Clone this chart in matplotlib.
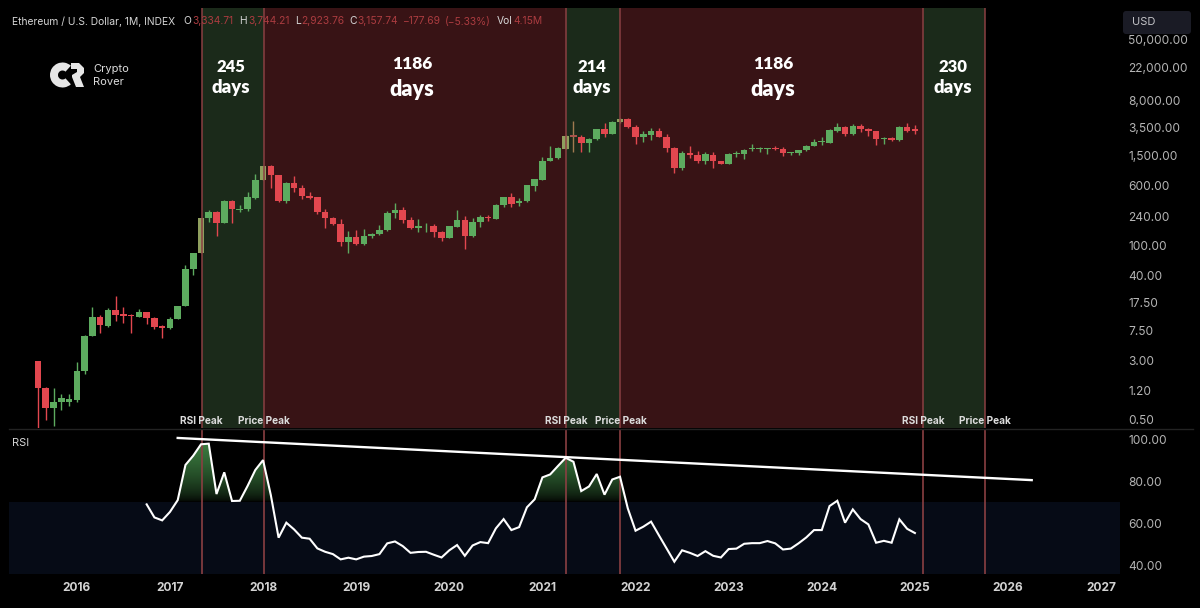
import numpy as np
import matplotlib
matplotlib.use("Agg")
import matplotlib.pyplot as plt
from matplotlib.patches import Wedge, Polygon, FancyBboxPatch
from matplotlib.path import Path

plt.rcParams['font.family'] = ['Inter', 'DejaVu Sans']

# monthly candles, Aug 2015 -> Jan 2025
opens = [3.0, 1.33, 0.71, 0.87, 0.86, 0.92, 2.17, 6.3, 11.3, 8.7, 14, 12.3, 12.1, 11.4, 13, 11.1, 8.5, 8.1, 10.7, 15.6,
         49, 77.5, 225, 275, 197, 384, 290, 295, 420, 719, 1097, 835, 384, 661, 569, 446, 425, 275, 227, 191,
         110, 129, 103, 132, 139, 158, 262, 287, 214, 166, 182, 180, 150, 125, 175, 214, 131, 203, 232, 220,
         337, 425, 354, 375, 599, 719, 1277, 1386, 1843, 2766, 2668, 2183, 2462, 3334, 2898, 4127, 4530, 3613, 2616, 2820,
         3205, 2668, 1893, 1023, 1641, 1532, 1289, 1532, 1277, 1167, 1580, 1565, 1830, 1820, 1840, 1910, 1830, 1641, 1629, 1767,
         2030, 2250, 2215, 3205, 3578, 2898, 3680, 3370, 3170, 2462, 2564, 2415, 3578, 3334.71]
highs = [3.0, 1.36, 1.33, 1.10, 1.10, 2.84, 6.58, 15.2, 11.9, 14.6, 21.4, 15.2, 12.4, 14.4, 13.3, 11.3, 8.9, 11.4, 15.8, 54,
         78, 228, 290, 281, 392, 392, 337, 504, 862, 1097, 1130, 835, 683, 798, 618, 504, 429, 295, 232, 218,
         155, 158, 164, 145, 184, 281, 361, 314, 232, 220, 197, 190, 153, 178, 290, 242, 225, 247, 249, 349,
         433, 480, 413, 618, 735, 1427, 2012, 1940, 2790, 4295, 2815, 2530, 3400, 4003, 4330, 4670, 4670, 3800, 3205, 3440,
         3440, 2898, 1940, 1745, 2012, 1745, 1695, 1663, 1289, 1641, 1730, 1830, 2118, 1970, 1893, 2000, 1950, 1695, 1800, 2100,
         2460, 2668, 3370, 4003, 3680, 3923, 3870, 3470, 3205, 2640, 2668, 3680, 4003, 3744.21]
lows = [0.39, 0.50, 0.42, 0.68, 0.77, 0.85, 2.02, 6.3, 6.9, 8.4, 10.1, 9.4, 6.9, 11.4, 9.2, 7.83, 5.95, 7.9, 10.7, 15.6,
        40, 77.5, 203, 132, 195, 197, 272, 284, 400, 719, 559, 365, 354, 504, 400, 404, 257, 166, 184, 97,
        79, 100, 100, 123, 136, 155, 225, 193, 161, 150, 150, 129, 114, 123, 171, 88, 127, 175, 210, 218,
        314, 314, 330, 367, 515, 713, 1267, 1360, 1816, 1695, 1663, 1695, 2415, 2616, 2868, 4003, 3480, 2140, 2250, 2415,
        2640, 1695, 880, 973, 1399, 1190, 1167, 1040, 1155, 1155, 1456, 1356, 1730, 1695, 1580, 1784, 1499, 1515, 1532, 1745,
        2012, 2055, 2190, 3048, 2760, 2815, 3090, 2760, 2075, 2140, 2343, 2360, 3048, 2923.76]
closes = [1.31, 0.72, 0.86, 0.96, 0.94, 2.21, 6.38, 11.3, 8.84, 14, 12.1, 11.8, 11.8, 13.2, 11, 8.4, 8.0, 10.6, 15.6, 49,
          77.5, 225, 275, 197, 384, 295, 301, 425, 719, 1097, 827, 384, 661, 569, 438, 422, 274, 227, 191, 111,
          129, 103, 133, 141, 158, 262, 287, 214, 166, 178, 185, 150, 125, 178, 214, 132, 203, 232, 227, 340,
          425, 349, 380, 612, 730, 1289, 1386, 1893, 2724, 2680, 2183, 2462, 3334, 2868, 4206, 4530, 3543, 2616, 2868, 3205,
          2668, 1876, 1023, 1641, 1532, 1289, 1565, 1263, 1167, 1565, 1629, 1784, 1876, 1876, 1893, 1830, 1613, 1680, 1767, 2030,
          2272, 2320, 3240, 3578, 2898, 3700, 3334, 3130, 2460, 2564, 2440, 3613, 3205, 3157.74]

# RSI starts Oct 2016 (month 14)
rsi_start = 14
rsi = [69.0, 62.8, 61.4, 65.4, 71.0, 87.7, 92.1, 97.5, 97.8, 73.9, 84.2, 70.6, 70.7, 77.7, 85.3, 90.0, 73.4, 53.2, 60.3, 57.1,
       53.2, 52.7, 48.1, 46.5, 45.4, 42.9, 43.7, 42.9, 44.2, 44.5, 45.4, 50.5, 51.4, 49.2, 46.0, 46.4, 46.5, 45.1, 43.8, 47.2,
       49.7, 44.6, 49.5, 51.1, 50.6, 57.6, 62.0, 56.8, 58.2, 67.6, 71.4, 81.8, 83.2, 87.2, 91.1, 89.2, 75.3, 77.5, 83.4, 73.6,
       80.8, 82.1, 67.1, 56.5, 58.4, 60.8, 54.4, 48.1, 41.8, 47.2, 46.0, 44.5, 46.8, 44.6, 43.8, 47.8, 48.0, 50.3, 50.6, 50.6,
       51.6, 50.5, 47.6, 48.0, 50.5, 53.3, 56.8, 56.8, 68.2, 70.7, 60.3, 66.6, 62.0, 59.5, 50.8, 51.7, 50.8, 61.9, 57.4, 55.4]

# falling trend line over the RSI peaks (month, rsi)
trend_x = [18.0, 128.05]
trend_y = [100.5, 80.5]

# months of the vertical lines: rsi peak / price peak
peak_months = [21.07, 29.06, 68.04, 75.06, 114.05, 122.04]
green_spans = [(21.07, 29.06), (68.04, 75.06), (114.05, 122.04)]
red_spans = [(29.06, 68.04), (75.06, 114.05)]

price_ticks = [0.5, 1.2, 3, 7.5, 17.5, 40, 100, 240, 600, 1500, 3500, 8000, 22000, 50000]
price_labels = ['0.50', '1.20', '3.00', '7.50', '17.50', '40.00', '100.00', '240.00', '600.00',
                '1,500.00', '3,500.00', '8,000.00', '22,000.00', '50,000.00']
rsi_ticks = [40, 60, 80, 100]
rsi_labels = ['40.00', '60.00', '80.00', '100.00']
year_months = [5, 17, 29, 41, 53, 65, 77, 89, 101, 113, 125, 137]
year_labels = ['2016', '2017', '2018', '2019', '2020', '2021', '2022', '2023', '2024', '2025', '2026', '2027']

GREEN = '#5dab5f'
RED = '#e2474f'
SHADE_G = '#1b2a1a'
SHADE_R = '#381315'
LINE_R = '#8a3f42'
TICK = '#b4b4b4'

W, H = 1200, 608
fig = plt.figure(figsize=(W / 100, H / 100), dpi=100, facecolor='black')

def px_axes(x0, y0, x1, y1):
    return fig.add_axes([x0 / W, 1 - y1 / H, (x1 - x0) / W, (y1 - y0) / H])

ax = px_axes(9, 8, 1120, 428)
ax2 = px_axes(9, 429, 1120, 573.5)
xlim = (-3.74, 139.43)

# --- price panel
ax.set_facecolor('black')
ax.set_yscale('log')
for a, b in green_spans:
    ax.axvspan(a, b, color=SHADE_G, lw=0, zorder=1)
for a, b in red_spans:
    ax.axvspan(a, b, color=SHADE_R, lw=0, zorder=1)

months = np.arange(len(opens))
o = np.array(opens)
c = np.array(closes)
colors = [GREEN if c[i] >= o[i] else RED for i in months]
# candles sitting under the peak lines look washed out
wick_colors = list(colors)
for i in [21, 29, 68, 75]:
    colors[i] = '#8f9f5e'
    wick_colors[i] = '#8f9f5e'
colors[69] = '#a9544c'
wick_colors[69] = '#a07a50'

ax.vlines(months, lows, highs, colors=wick_colors, lw=1.0, zorder=3)
ax.bar(months, np.abs(c - o), bottom=np.minimum(o, c), width=0.85, color=colors, lw=0, zorder=4)

for m in peak_months:
    ax.axvline(m, color=LINE_R, lw=1.1, zorder=5)

ax.set_xlim(xlim)
ax.set_ylim(0.39, 131800)
ax.yaxis.tick_right()
ax.set_yticks(price_ticks)
ax.set_yticklabels(price_labels, color=TICK, fontsize=8.6)
ax.minorticks_off()
ax.tick_params(axis='y', length=0, pad=5.8)
ax.set_xticks([])
for s in ax.spines.values():
    s.set_visible(False)

# --- rsi panel
ax2.set_facecolor('black')
ax2.axhspan(36.2, 70, color='#060b16', lw=0, zorder=1)

rsi_x = rsi_start + np.arange(len(rsi))
rsi_y = np.array(rsi)

# green gradient between the line and the 70 level
fill = ax2.fill_between(rsi_x, rsi_y, 70, where=rsi_y > 70, interpolate=True)
clip = Path.make_compound_path(*fill.get_paths())
fill.remove()
grad = np.zeros((100, 2, 4))
grad[:, :, 0] = 0.25
grad[:, :, 1] = 0.52
grad[:, :, 2] = 0.27
grad[:, :, 3] = (np.linspace(1.0, 0.0, 100) ** 0.6)[:, None]
im = ax2.imshow(grad, extent=[rsi_x[0], rsi_x[-1], 70, 100], aspect='auto', zorder=2, origin='upper')
im.set_clip_path(clip, transform=ax2.transData)

for m in peak_months:
    ax2.axvline(m, color=LINE_R, lw=1.2, zorder=3)
ax2.plot(rsi_x, rsi_y, color='white', lw=1.5, zorder=4, solid_joinstyle='miter')
ax2.plot(trend_x, trend_y, color='white', lw=1.7, zorder=4)

ax2.set_xlim(xlim)
ax2.set_ylim(36.2, 104.75)
ax2.yaxis.tick_right()
ax2.set_yticks(rsi_ticks)
ax2.set_yticklabels(rsi_labels, color=TICK, fontsize=8.6)
ax2.set_xticks(year_months)
ax2.set_xticklabels(year_labels, color='#d2d2d2', fontsize=8.6, fontweight='bold')
ax2.tick_params(axis='y', length=0, pad=5.8)
ax2.tick_params(axis='x', length=0, pad=6)
for s in ax2.spines.values():
    s.set_visible(False)

# --- overlay in picture pixels for the header, logo and notes
top = fig.add_axes([0, 0, 1, 1])
top.set_xlim(0, W)
top.set_ylim(H, 0)
top.axis('off')
top.set_zorder(5)

top.plot([9, 1193], [428.5, 428.5], color='#232323', lw=1)

LBL = '#d6d6d6'
DIM = '#ab3c40'
header = [(12, 'Ethereum / U.S. Dollar, 1M, INDEX', LBL), (183, 'O', LBL), (192, '3,334.71', DIM),
          (239, 'H', LBL), (248, '3,744.21', DIM), (295, 'L', LBL), (301, '2,923.76', DIM),
          (349, 'C', LBL), (357, '3,157.74', DIM), (403, '\u2212177.69', DIM), (445, '(\u22125.33%)', DIM),
          (497, 'Vol', LBL), (513, '4.15M', DIM)]
for x, s, col in header:
    top.text(x, 21.5, s, color=col, fontsize=7.4, ha='left', va='center')

top.text(12, 443, 'RSI', color=LBL, fontsize=7.9, ha='left', va='center')

for x, s in [(201.5, 'RSI Peak'), (263.5, 'Price Peak'), (566, 'RSI Peak'), (620.5, 'Price Peak'),
             (923, 'RSI Peak'), (985, 'Price Peak')]:
    top.text(x, 420.5, s, color='#dcdcdc', fontsize=7.3, fontweight='bold', ha='center', va='center')

for x, num, s1, s2, y1, y2 in [(231, '245', 12, 13.3, 67, 88), (412, '1186', 12.5, 15.5, 64, 90),
                               (592, '214', 12, 13.3, 67, 88), (773, '1186', 12.5, 15.5, 64, 90),
                               (953, '230', 12, 13.3, 67, 88)]:
    top.text(x, y1, num, color='white', fontsize=s1, fontweight='heavy', family='Lato', ha='center', va='center')
    top.text(x, y2, 'days', color='white', fontsize=s2, fontweight='heavy', family='Lato', ha='center', va='center')

# logo
top.add_patch(Wedge((62.5, 75), 12.5, 48, 312, width=8, color='#e6e6e6', lw=0))
top.add_patch(Polygon([(71, 63), (79, 63), (84, 68), (84, 73), (80, 77), (84, 87), (76, 87),
                       (72, 77), (72, 75), (77, 72), (77, 69), (71, 69)], closed=True, color='#e6e6e6', lw=0))
top.text(93, 69.5, 'Crypto', color='#dcdcdc', fontsize=8, ha='left', va='center')
top.text(93, 82, 'Rover', color='#dcdcdc', fontsize=8, ha='left', va='center')

# currency button
top.add_patch(FancyBboxPatch((1125, 13), 64, 19, boxstyle='round,pad=2,rounding_size=3', fc='#1a1b25', ec='none'))
top.text(1132, 22, 'USD', color='#c4c4c8', fontsize=8, ha='left', va='center')

fig.savefig('out.png', dpi=100, facecolor='black')
